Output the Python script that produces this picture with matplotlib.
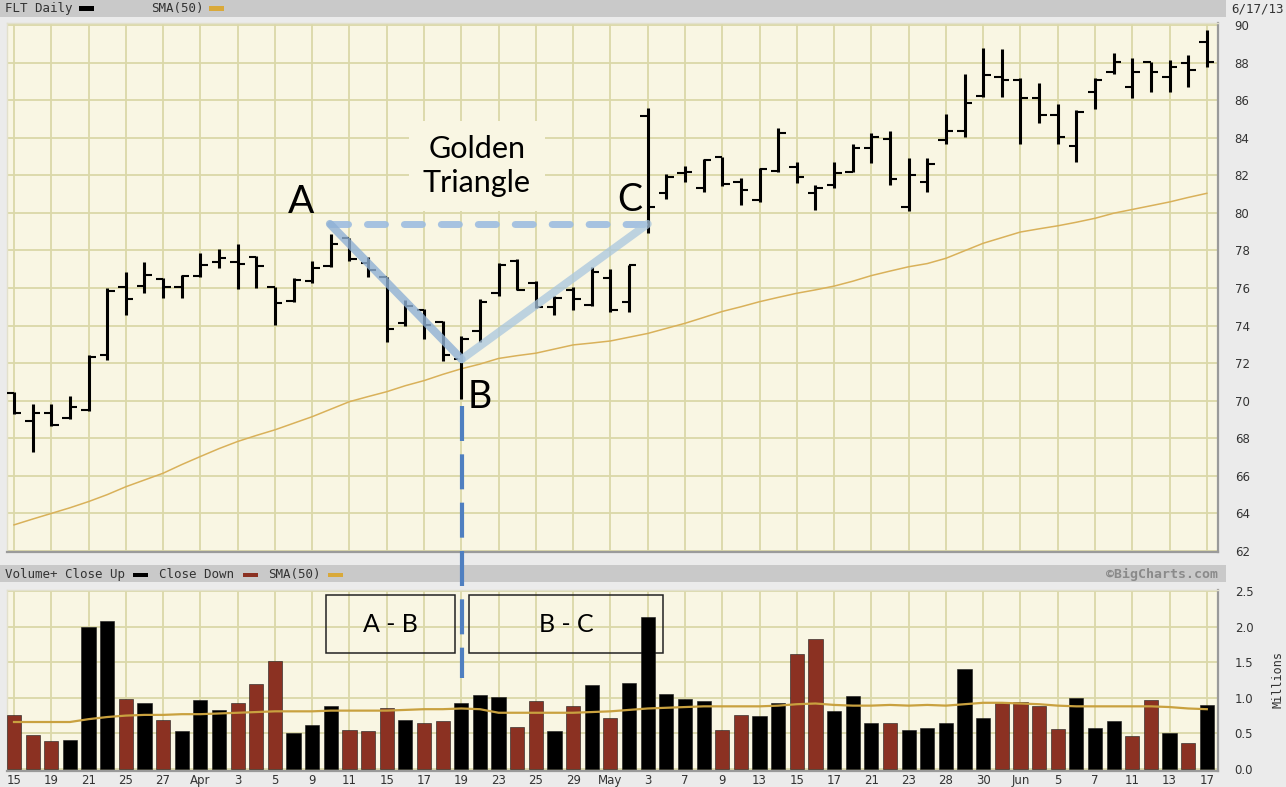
import numpy as np
import matplotlib
matplotlib.use("Agg")
import matplotlib.pyplot as plt
from matplotlib.patches import Rectangle
from matplotlib.lines import Line2D

# daily bars, FLT, 15 Mar 2013 .. 17 Jun 2013 (65 sessions)
opens = [70.39, 68.94, 69.33, 69.08, 69.50, 72.45, 76.04, 76.11, 76.46, 76.07,
         76.64, 77.40, 77.40, 77.67, 76.04, 75.33, 76.39, 77.17, 78.65, 77.35,
         76.57, 74.12, 74.83, 74.17, 72.22, 73.73, 75.72, 77.46, 76.29, 75.00,
         75.90, 75.10, 76.55, 75.24, 85.16, 81.08, 82.10, 81.31, 82.99, 81.66,
         80.68, 82.25, 82.46, 81.04, 81.50, 82.19, 83.44, 83.93, 80.30, 81.63,
         83.88, 84.36, 86.22, 87.25, 87.07, 86.13, 85.21, 83.58, 86.45, 87.52,
         86.72, 88.05, 87.21, 87.96, 89.08]
highs = [70.44, 69.83, 69.83, 70.27, 72.44, 76.00, 76.87, 77.40, 76.52, 76.69,
         77.85, 78.06, 78.32, 77.70, 76.07, 76.52, 77.46, 78.88, 78.65, 77.67,
         76.61, 75.36, 74.87, 74.26, 73.46, 75.41, 77.31, 77.53, 76.39, 75.58,
         76.07, 77.10, 77.00, 77.23, 85.56, 82.07, 82.51, 82.85, 82.99, 81.84,
         82.37, 84.50, 82.73, 81.48, 82.73, 83.67, 84.27, 84.38, 82.90, 82.90,
         85.26, 87.39, 88.79, 88.72, 87.20, 86.93, 85.78, 85.48, 87.20, 88.49,
         88.23, 88.05, 88.14, 88.40, 89.73]
lows = [69.29, 67.25, 68.67, 69.03, 69.47, 72.17, 74.57, 75.75, 75.45, 75.45,
        76.60, 77.05, 75.93, 75.98, 74.03, 75.27, 76.29, 77.14, 77.46, 76.57,
        73.15, 73.98, 73.27, 72.13, 70.09, 73.11, 75.60, 75.90, 74.92, 74.57,
        74.83, 75.06, 74.74, 74.74, 78.91, 80.72, 81.66, 81.13, 81.43, 80.42,
        80.60, 82.20, 81.57, 80.15, 81.30, 82.19, 82.64, 81.48, 80.12, 81.10,
        83.65, 84.06, 86.19, 86.19, 83.65, 84.77, 83.65, 82.69, 85.53, 87.39,
        86.10, 86.45, 86.45, 86.72, 87.78]
closes = [69.35, 69.33, 68.73, 69.68, 72.35, 75.85, 75.40, 76.69, 76.07, 76.64,
          77.22, 77.60, 77.26, 77.17, 75.19, 76.43, 77.05, 78.34, 77.53, 76.96,
          73.80, 75.05, 74.03, 72.45, 73.29, 75.24, 77.22, 75.90, 75.00, 75.45,
          75.40, 76.87, 74.83, 77.23, 80.33, 81.93, 82.15, 82.81, 81.54, 81.22,
          82.32, 84.23, 81.89, 81.31, 82.10, 83.43, 84.06, 81.79, 82.02, 82.59,
          84.36, 85.87, 87.34, 87.07, 86.13, 85.21, 84.06, 85.39, 87.07, 88.05,
          87.52, 87.52, 87.78, 87.60, 88.05]
sma50 = [63.39, 63.70, 64.00, 64.30, 64.63, 65.00, 65.42, 65.78, 66.14, 66.60,
         67.03, 67.45, 67.83, 68.15, 68.45, 68.80, 69.15, 69.55, 69.95, 70.22,
         70.48, 70.80, 71.07, 71.40, 71.70, 71.95, 72.25, 72.40, 72.53, 72.75,
         72.97, 73.07, 73.18, 73.38, 73.58, 73.85, 74.12, 74.43, 74.75, 75.00,
         75.27, 75.50, 75.72, 75.90, 76.10, 76.36, 76.66, 76.90, 77.13, 77.30,
         77.58, 77.98, 78.38, 78.68, 78.98, 79.15, 79.31, 79.50, 79.71, 79.98,
         80.18, 80.38, 80.58, 80.82, 81.04]

# volume in millions, 1 = close up (black), 0 = close down (red)
volume = [0.76, 0.48, 0.39, 0.41, 1.99, 2.08, 0.99, 0.92, 0.69, 0.53,
          0.97, 0.83, 0.92, 1.20, 1.52, 0.50, 0.62, 0.88, 0.55, 0.53,
          0.85, 0.69, 0.64, 0.67, 0.93, 1.04, 1.01, 0.59, 0.95, 0.53,
          0.88, 1.18, 0.72, 1.21, 2.13, 1.06, 0.99, 0.95, 0.55, 0.76,
          0.74, 0.92, 1.62, 1.83, 0.81, 1.03, 0.65, 0.64, 0.55, 0.58,
          0.64, 1.41, 0.71, 0.93, 0.94, 0.89, 0.56, 1.00, 0.57, 0.67,
          0.46, 0.97, 0.50, 0.36, 0.90]
vol_up = [0, 0, 0, 1, 1, 1, 0, 1, 0, 1,
          1, 1, 0, 0, 0, 1, 1, 1, 0, 0,
          0, 1, 0, 0, 1, 1, 1, 0, 0, 1,
          0, 1, 0, 1, 1, 1, 1, 1, 0, 0,
          1, 1, 0, 0, 1, 1, 1, 0, 1, 1,
          1, 1, 1, 0, 0, 0, 0, 1, 1, 1,
          0, 0, 1, 0, 1]
vol_sma = [0.66, 0.66, 0.66, 0.66, 0.70, 0.73, 0.75, 0.76, 0.76, 0.77,
           0.77, 0.78, 0.79, 0.80, 0.81, 0.81, 0.81, 0.82, 0.82, 0.82,
           0.82, 0.83, 0.84, 0.84, 0.85, 0.84, 0.79, 0.79, 0.79, 0.79,
           0.79, 0.80, 0.81, 0.83, 0.85, 0.86, 0.87, 0.88, 0.88, 0.88,
           0.88, 0.89, 0.91, 0.92, 0.90, 0.89, 0.89, 0.90, 0.89, 0.90,
           0.89, 0.91, 0.93, 0.93, 0.92, 0.91, 0.89, 0.88, 0.88, 0.88,
           0.88, 0.88, 0.87, 0.85, 0.84]

tick_labels = ["15", "19", "21", "25", "27", "Apr", "3", "5", "9", "11", "15",
               "17", "19", "23", "25", "29", "May", "3", "7", "9", "13", "15",
               "17", "21", "23", "28", "30", "Jun", "5", "7", "11", "13", "17"]

# golden triangle points (bar index, price)
tri_x = [16.95, 24.02, 34.0]
tri_y = [79.41, 72.21, 79.41]

W, H = 1286, 787
BG = "#f9f6e3"
GRID = "#dbd8a8"
RED = "#8b3122"
MONO = "DejaVu Sans Mono"
CAL = "Lato"

fig = plt.figure(figsize=(W / 100, H / 100), dpi=100)
fig.patch.set_facecolor("#ebebeb")


def fx(x):
    return x / W


def fy(y):
    return 1 - y / H


# header bands
for top, bot in [(0, 17), (565, 582)]:
    fig.add_artist(Rectangle((0, fy(bot)), fx(1226), (bot - top) / H,
                             transform=fig.transFigure, facecolor="#c9c9c9",
                             edgecolor="none", zorder=0))

ax = fig.add_axes([fx(7), fy(552), fx(1211), 529 / H])
axv = fig.add_axes([fx(7), fy(771), fx(1211), 181 / H])

x = np.arange(len(opens))
xlim = (-0.375, 64.6)

for a in (ax, axv):
    a.set_facecolor(BG)
    a.set_xlim(*xlim)
    a.set_xticks(x[::2])
    a.yaxis.tick_right()
    a.tick_params(length=0, labelsize=8.5, labelcolor="#333333")
    a.grid(True, color=GRID, linewidth=1.3)
    a.set_axisbelow(True)
    for s in ("left", "top"):
        a.spines[s].set_color("#e2e0cc")
        a.spines[s].set_linewidth(1)
    for s in ("right", "bottom"):
        a.spines[s].set_color("#9a9a9a")
        a.spines[s].set_linewidth(1.6)

# ---- price panel
ax.set_ylim(61.947, 90.106)
ax.set_yticks(np.arange(62, 91, 2))
ax.set_xticklabels([])
ax.tick_params(axis="y", pad=12)

ax.plot(x, sma50, color="#d9b15a", linewidth=1.1, zorder=2)
ax.vlines(x, lows, highs, color="black", linewidth=2.2, zorder=3)
ax.hlines(opens, x - 0.4, x, color="black", linewidth=1.5, zorder=3)
ax.hlines(closes, x, x + 0.4, color="black", linewidth=1.5, zorder=3)

# triangle
ax.plot([tri_x[0], tri_x[2]], [tri_y[0], tri_y[2]], color="#9dbde0",
        linewidth=5, alpha=0.9, dashes=[2.6, 2.72], dash_capstyle="round",
        zorder=4)
ax.plot(tri_x[:2], tri_y[:2], color="#8fb1d5", linewidth=5.8, alpha=0.8,
        solid_capstyle="round", zorder=4)
ax.plot(tri_x[1:], tri_y[1:], color="#a9c6de", linewidth=5.8, alpha=0.75,
        solid_capstyle="round", zorder=4)

ax.text(15.4, 80.58, "A", fontsize=28, family=CAL, ha="center", va="center",
        zorder=6)
ax.text(25.0, 70.2, "B", fontsize=27, family=CAL, ha="center", va="center",
        zorder=6)
ax.text(33.05, 80.69, "C", fontsize=27, family=CAL, ha="center", va="center",
        zorder=6)
ax.text(24.84, 82.5, "Golden\nTriangle", fontsize=22, family=CAL,
        ha="center", va="center", linespacing=1.25, zorder=5,
        bbox=dict(boxstyle="square,pad=0.45", facecolor=BG, edgecolor="none"))

# ---- volume panel
axv.set_ylim(-0.028, 2.514)
axv.set_yticks(np.arange(0, 2.6, 0.5))
axv.set_yticklabels([f"{v:.1f}" for v in np.arange(0, 2.6, 0.5)])
axv.set_xticklabels(tick_labels)
axv.tick_params(axis="y", pad=12)
axv.tick_params(axis="x", pad=2)

colors = ["black" if u else RED for u in vol_up]
axv.bar(x, volume, width=0.76, color=colors, edgecolor="#1a1a1a",
        linewidth=0.4, zorder=3)
axv.plot(x, vol_sma, color="#c9a13f", linewidth=1.6, zorder=4)

for x0, x1, label in [(16.74, 23.66, "A - B"), (24.41, 34.82, "B - C")]:
    axv.add_patch(Rectangle((x0, 1.63), x1 - x0, 0.81, facecolor="none",
                            edgecolor="#222222", linewidth=1.1, zorder=2))
    axv.text((x0 + x1) / 2, 2.03, label, fontsize=18, family=CAL,
             ha="center", va="center", zorder=5)

# vertical dashed line from B down to the volume boxes
p1 = fig.transFigure.inverted().transform(ax.transData.transform((24.02, 69.7)))
p2 = fig.transFigure.inverted().transform(axv.transData.transform((24.02, 1.28)))
fig.add_artist(Line2D([p1[0], p2[0]], [p1[1], p2[1]], transform=fig.transFigure,
                      color="#4f7fc0", linewidth=3, dashes=[8.4, 3.2],
                      zorder=10))

# header texts
def swatch(x0, y0, color):
    fig.add_artist(Rectangle((fx(x0), fy(y0 + 2)), fx(15), 4 / H,
                             transform=fig.transFigure, facecolor=color,
                             edgecolor="none", zorder=3))


fig.text(fx(5), fy(8.5), "FLT Daily", family=MONO, fontsize=9,
         color="#333333", va="center")
swatch(79, 8.5, "black")
fig.text(fx(151), fy(8.5), "SMA(50)", family=MONO, fontsize=9,
         color="#333333", va="center")
swatch(209, 8.5, "#d9a93a")
fig.text(fx(1284), fy(8.5), "6/17/13", family=MONO, fontsize=9,
         color="#333333", va="center", ha="right")

fig.text(fx(5), fy(574.5), "Volume+ Close Up", family=MONO, fontsize=9,
         color="#333333", va="center")
swatch(133, 574.5, "black")
fig.text(fx(159), fy(574.5), "Close Down", family=MONO, fontsize=9,
         color="#333333", va="center")
swatch(243, 574.5, RED)
fig.text(fx(268), fy(574.5), "SMA(50)", family=MONO, fontsize=9,
         color="#333333", va="center")
swatch(328, 574.5, "#d9a93a")
fig.text(fx(1218), fy(574.5), "\u00a9BigCharts.com", family=MONO,
         fontsize=9.5, fontweight="bold", color="#8a8a8a", va="center",
         ha="right")
fig.text(fx(1278), fy(680), "Millions", family=MONO, fontsize=8.5,
         color="#333333", va="center", ha="center", rotation=90)

fig.savefig("out.png", dpi=100, facecolor=fig.get_facecolor())
